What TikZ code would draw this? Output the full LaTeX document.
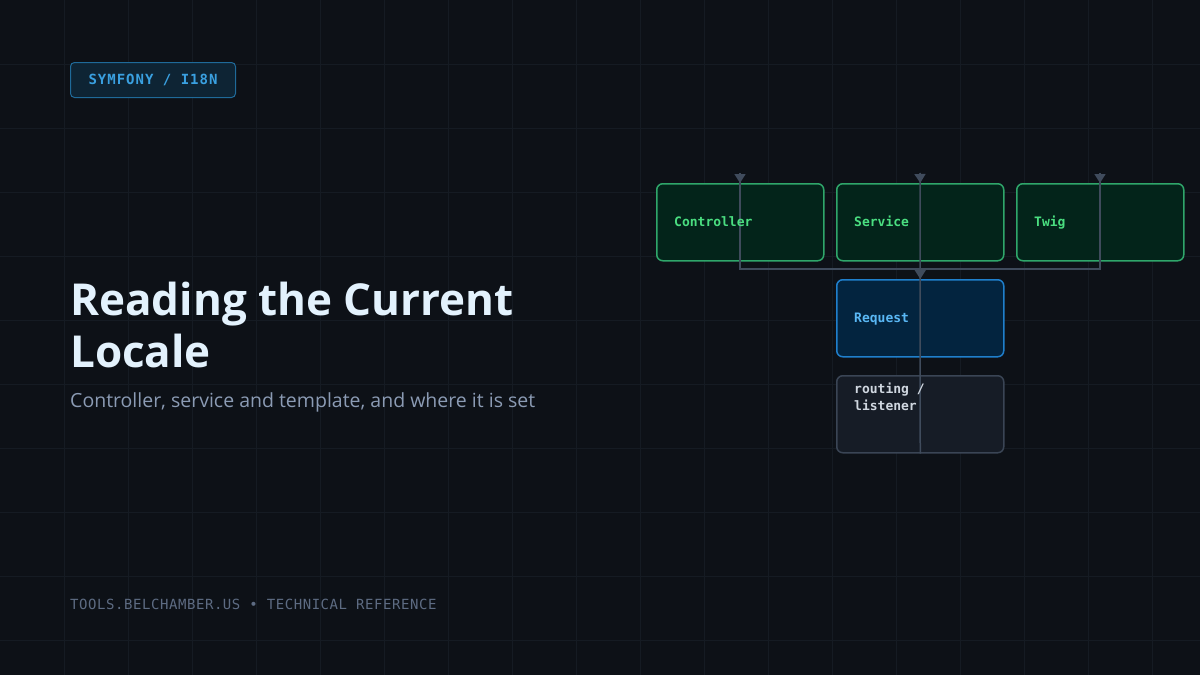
\documentclass[tikz,border=0pt]{standalone}
\usepackage{fontspec}
\setmainfont{Open Sans}
\newfontfamily\monof{DejaVu Sans Mono}[LetterSpace=0]
\newfontfamily\monofs{DejaVu Sans Mono}[LetterSpace=4]
\newfontfamily\titlef{Open Sans}
\usetikzlibrary{arrows.meta}
\definecolor{bg}{HTML}{0D1117}
\definecolor{grid}{HTML}{151B23}
\definecolor{gfill}{HTML}{03241A}
\definecolor{gline}{HTML}{2FA66A}
\definecolor{gtext}{HTML}{4ADE80}
\definecolor{bfill}{HTML}{03243F}
\definecolor{bline}{HTML}{1F7FCC}
\definecolor{btext}{HTML}{5AB8F5}
\definecolor{kfill}{HTML}{161C26}
\definecolor{kline}{HTML}{3A4555}
\definecolor{ktext}{HTML}{D0D7E0}
\definecolor{conn}{HTML}{3F4B5C}
\definecolor{title}{HTML}{E3F2FD}
\definecolor{sub}{HTML}{8B9BB4}
\definecolor{foot}{HTML}{5D6B82}
\definecolor{tagfill}{HTML}{0E2434}
\definecolor{tagline}{HTML}{1F6A99}
\definecolor{tagtext}{HTML}{3AA0E0}
\begin{document}
\begin{tikzpicture}[x=1pt,y=-1pt,
 box/.style={draw,line width=1.5pt,rounded corners=6pt,minimum width=167pt,minimum height=77pt,anchor=north west,inner sep=0pt},
 lbl/.style={anchor=base west,inner sep=0pt,font=\monof\bfseries\fontsize{13}{17}\selectfont,align=left},
 con/.style={conn,line width=1.5pt},
 tip/.style={conn,line width=1.5pt,-{Triangle[width=11pt,length=9pt]}}]
\fill[bg] (0,0) rectangle (1200,675);
\useasboundingbox (0,0) rectangle (1200,675);
\foreach \x in {64,128,...,1200} \draw[grid,line width=1pt] (\x,0) -- (\x,675);
\foreach \y in {64,128,...,675} \draw[grid,line width=1pt] (0,\y) -- (1200,\y);
% tag
\node[draw=tagline,fill=tagfill,rounded corners=4pt,line width=1pt,minimum width=165pt,minimum height=35pt,anchor=north west,inner sep=0pt] (tag) at (70,62) {};
\node[font=\monof\bfseries\fontsize{14}{16}\selectfont,text=tagtext] (tagt) at (tag.center) {S\kern1ptY\kern1ptM\kern1ptF\kern1ptO\kern1ptN\kern1ptY\kern1pt\ /\ \kern1ptI\kern1pt1\kern1pt8\kern1ptN};
% title
\node[anchor=north west,inner sep=0pt,font=\titlef\bfseries\fontsize{44}{52}\selectfont,text=title,align=left] (title) at (70,282) {Reading the Current\\Locale};
\node[anchor=north west,inner sep=0pt,font=\fontsize{19.5}{24}\selectfont,text=sub] (sub) at (70,392) {Controller, service and template, and where it is set};
\node[anchor=west,inner sep=0pt,font=\monofs\fontsize{14}{16}\selectfont,text=foot] (foot) at (70,604) {TOOLS.BELCHAMBER.US • TECHNICAL REFERENCE};
% boxes
\node[box,draw=gline,fill=gfill] (ctrl) at (656,183) {};
\node[box,draw=gline,fill=gfill] (serv) at (836,183) {};
\node[box,draw=gline,fill=gfill] (twig) at (1016,183) {};
\node[box,draw=bline,fill=bfill] (req) at (836,279) {};
\node[box,draw=kline,fill=kfill] (rout) at (836,375) {};
% connectors
\coordinate (busL) at (740,269);
\coordinate (busR) at (1100,269);
\coordinate (c1) at (740,173);
\coordinate (c2) at (920,173);
\coordinate (c3) at (1100,173);
\draw[con] (c1) -- (busL) -- (busR) -- (c3);
\draw[con] (c2) -- (rout.south);
\draw[tip] (c1) -- (ctrl.north -| c1);
\draw[tip] (c2) -- (serv.north);
\draw[tip] (c3) -- (twig.north -| c3);
\draw[tip] (busL -| req.north) -- (req.north);
% labels
\node[lbl,text=gtext] at (674,226) {Controller};
\node[lbl,text=gtext] at (854,226) {Service};
\node[lbl,text=gtext] at (1034,226) {Twig};
\node[lbl,text=btext] at (854,322) {Request};
\node[lbl,text=ktext] at (854,410) {routing /\\listener};
\end{tikzpicture}
\end{document}
